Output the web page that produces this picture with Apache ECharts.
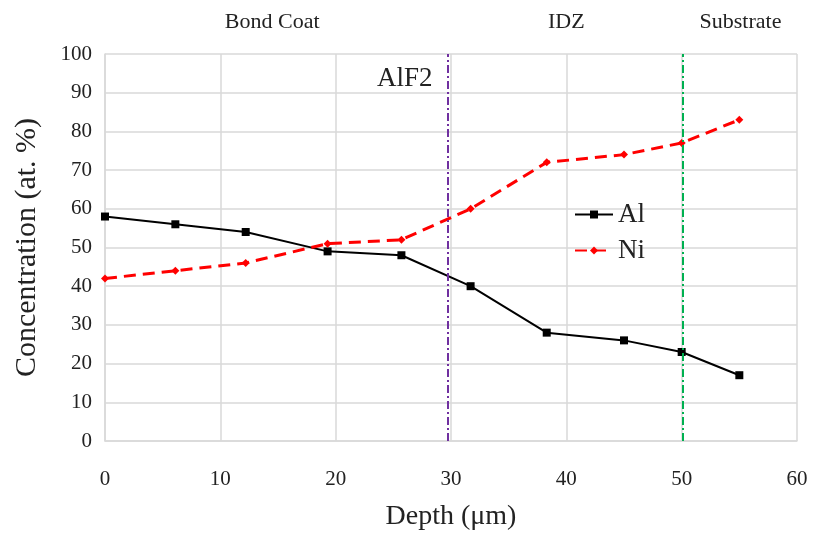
<!DOCTYPE html>
<html>
<head>
<meta charset="utf-8">
<script src="https://cdn.jsdelivr.net/npm/echarts@6/dist/echarts.min.js"></script>
<style>
  html, body { margin: 0; padding: 0; background: #fff; }
  #chart { width: 813px; height: 536px; }
</style>
</head>
<body>
<div id="chart"></div>
<script>
// Depth profile values (depth in µm, concentration in at. %)
const depthAl = [0, 6.1, 12.2, 19.3, 25.7, 31.7, 38.3, 45.0, 50.0, 55.0];
const valuesAl = [58, 56, 54, 49, 48, 40, 28, 26, 23, 17];
const depthNi = [0, 6.1, 12.2, 19.3, 25.7, 31.7, 38.3, 45.0, 50.0, 55.0];
const valuesNi = [42, 44, 46, 51, 52, 60, 72, 74, 77, 83];

// Boundary positions
const boundaryAlF2 = 29.7;
const boundarySubstrate = 50.1;

// Region labels along the top
const regionNames = ['Bond Coat', 'IDZ', 'Substrate'];
const regionCenters = [14.5, 40, 55.1];

const FONT = '"Liberation Serif", "DejaVu Serif", serif';

const chart = echarts.init(document.getElementById('chart'));

const pairs = (xs, ys) => xs.map((x, i) => [x, ys[i]]);

const option = {
  animation: false,
  backgroundColor: '#ffffff',
  grid: { left: 105, right: 16, top: 54, bottom: 93, containLabel: false },
  xAxis: {
    type: 'value', min: 0, max: 60, interval: 10,
    name: 'Depth (\u03bcm)', nameLocation: 'middle', nameGap: 62,
    nameTextStyle: { fontFamily: FONT, fontSize: 28, color: '#222' },
    axisLine: { show: true, lineStyle: { color: '#d9d9d9', width: 1.5 } },
    axisTick: { show: false },
    axisLabel: { fontFamily: FONT, fontSize: 21, color: '#222', margin: 28 },
    splitLine: { show: true, lineStyle: { color: '#d9d9d9', width: 1.5 } }
  },
  yAxis: {
    type: 'value', min: 0, max: 100, interval: 10,
    name: 'Concentration (at. %)', nameLocation: 'middle', nameGap: 63,
    nameTextStyle: { fontFamily: FONT, fontSize: 30, color: '#222' },
    axisLine: { show: true, lineStyle: { color: '#d9d9d9', width: 1.5 } },
    axisTick: { show: false },
    axisLabel: { fontFamily: FONT, fontSize: 21, color: '#222', margin: 13 },
    splitLine: { show: true, lineStyle: { color: '#d9d9d9', width: 1.5 } }
  },
  legend: {
    orient: 'vertical', left: 569, top: 196, itemGap: 9,
    itemWidth: 38, itemHeight: 10,
    textStyle: { fontFamily: FONT, fontSize: 27, color: '#222' },
    data: ['Al', 'Ni']
  },
  series: [
    {
      name: 'Al', type: 'line', data: pairs(depthAl, valuesAl),
      symbol: 'rect', symbolSize: 8,
      itemStyle: { color: '#000' },
      lineStyle: { color: '#000', width: 2 },
      z: 3
    },
    {
      name: 'Ni', type: 'line', data: pairs(depthNi, valuesNi),
      symbol: 'diamond', symbolSize: 8,
      itemStyle: { color: '#ff0000' },
      lineStyle: { color: '#ff0000', width: 3, type: [12, 7] },
      z: 3
    },
    {
      name: 'boundaries', type: 'line', data: [],
      markLine: {
        silent: true, symbol: 'none', label: { show: false },
        data: [
          { xAxis: boundaryAlF2, lineStyle: { color: '#7030a0', width: 2, type: [8, 3, 2, 3] } },
          { xAxis: boundarySubstrate, lineStyle: { color: '#00b050', width: 2, type: [8, 3, 2, 3] } }
        ]
      },
      z: 2
    }
  ]
};

chart.setOption(option);

// Region titles above the plot and the AlF2 boundary label, placed via the axis scale
const topY = 22;
const graphics = regionNames.map((name, i) => {
  const px = chart.convertToPixel({ gridIndex: 0 }, [regionCenters[i], 100])[0];
  return {
    type: 'text', x: px, y: topY,
    style: { text: name, font: '22px ' + FONT, fill: '#222', align: 'center', verticalAlign: 'middle' }
  };
});
const alf2Px = chart.convertToPixel({ gridIndex: 0 }, [boundaryAlF2, 95]);
graphics.push({
  type: 'text', x: alf2Px[0] - 15, y: alf2Px[1] + 6,
  style: { text: 'AlF2', font: '27px ' + FONT, fill: '#222', align: 'right', verticalAlign: 'middle' }
});
chart.setOption({ graphic: graphics });
</script>
</body>
</html>
